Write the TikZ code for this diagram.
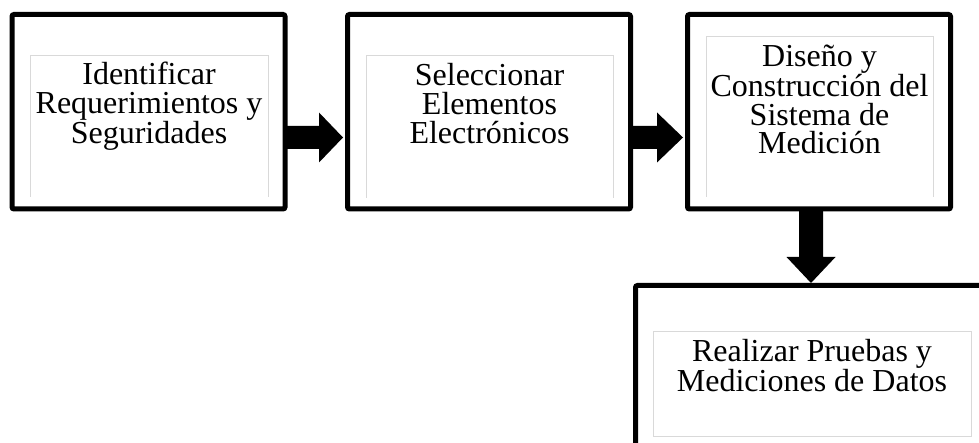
\documentclass[tikz,border=0pt]{standalone}
\usepackage{fontspec}
\setmainfont{Liberation Serif}
\usetikzlibrary{calc}
\definecolor{innergray}{HTML}{D9D9D9}
\tikzset{
  outerbox/.style={draw=black, line width=5pt, rounded corners=2pt, inner sep=0pt},
  innerline/.style={draw=innergray, line width=1pt},
  % anchored on the baseline of the last line
  steptext/.style={font=\fontsize{32}{28.6}\selectfont, align=center, anchor=base, inner sep=0pt},
  blockarrow/.style={fill=black}
}
\begin{document}
\begin{tikzpicture}[x=1pt,y=-1pt]
  \clip (0,0) rectangle (979,443);
  \fill[white] (0,0) rectangle (979,443);

  % outer frames of the four steps
  \node[outerbox, minimum width=273pt, minimum height=194.5pt] (b1) at (148.5,111.75) {};
  \node[outerbox, minimum width=283pt, minimum height=194.5pt] (b2) at (489,111.75) {};
  \node[outerbox, minimum width=263pt, minimum height=194.5pt] (b3) at (819,111.75) {};
  \node[outerbox, minimum width=374.5pt, minimum height=194.5pt] (b4) at (822.75,382.75) {};

  % thin inner text frames
  \draw[innerline] (30,197) -- (30,56) -- (268,56) -- (268,197);
  \draw[innerline] (366,198) -- (366,56) -- (613,56) -- (613,198);
  \draw[innerline] (706,197) -- (706,37) -- (933,37) -- (933,197);
  \draw[innerline] (653,331) rectangle (971,436);

  % step texts
  \node[steptext] (t1) at (149,143.2) {Identificar\\Requerimientos y\\Seguridades};
  \node[steptext] (t2) at (489.5,143.2) {Seleccionar\\Elementos\\Electrónicos};
  \node[steptext] (t3) at (819.5,153.8) {Diseño y\\Construcción del\\Sistema de\\Medición};
  \node[steptext] (t4) at (812,391.6) {Realizar Pruebas y\\Mediciones de Datos};

  % block arrows between the steps
  \coordinate (a1s) at ($(b1.east |- 0,137.5)+(-3,0)$);
  \coordinate (a1e) at ($(b2.west |- 0,137.5)+(-2,0)$);
  \fill[blockarrow] ($(a1s)+(0,-11.5)$) -- ($(a1e)+(-24,-11.5)$) -- ($(a1e)+(-24,-25)$)
    -- (a1e) -- ($(a1e)+(-24,25)$) -- ($(a1e)+(-24,11.5)$) -- ($(a1s)+(0,11.5)$) -- cycle;

  \coordinate (a2s) at ($(b2.east |- 0,137.5)+(-3,0)$);
  \coordinate (a2e) at ($(b3.west |- 0,137.5)+(-2,0)$);
  \fill[blockarrow] ($(a2s)+(0,-11.5)$) -- ($(a2e)+(-26,-11.5)$) -- ($(a2e)+(-26,-25)$)
    -- (a2e) -- ($(a2e)+(-26,25)$) -- ($(a2e)+(-26,11.5)$) -- ($(a2s)+(0,11.5)$) -- cycle;

  \coordinate (a3s) at ($(811,0 |- b3.south)+(0,-3)$);
  \coordinate (a3e) at (811,0 |- b4.north);
  \fill[blockarrow] ($(a3s)+(-12,0)$) -- ($(a3e)+(-12,-26)$) -- ($(a3e)+(-24.5,-26)$)
    -- (a3e) -- ($(a3e)+(24.5,-26)$) -- ($(a3e)+(12,-26)$) -- ($(a3s)+(12,0)$) -- cycle;
\end{tikzpicture}
\end{document}
